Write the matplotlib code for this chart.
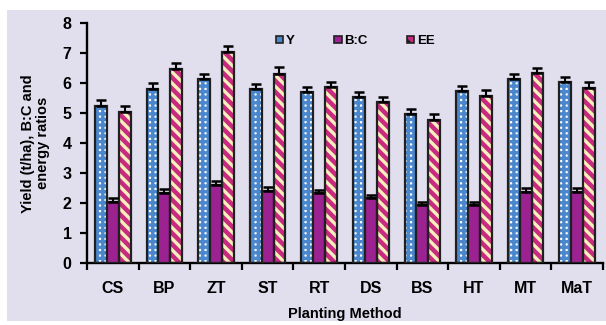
import matplotlib
matplotlib.use('Agg')
import matplotlib.pyplot as plt
import matplotlib.patches as mpatches
import numpy as np

plt.rcParams['font.family'] = ['Liberation Sans', 'DejaVu Sans']
plt.rcParams['font.weight'] = 'bold'
plt.rcParams['hatch.linewidth'] = 2.4

methods = ['CS', 'BP', 'ZT', 'ST', 'RT', 'DS', 'BS', 'HT', 'MT', 'MaT']
y_vals = [5.25, 5.82, 6.13, 5.82, 5.72, 5.55, 4.97, 5.75, 6.15, 6.04]
y_err = [0.19, 0.18, 0.17, 0.15, 0.17, 0.17, 0.17, 0.17, 0.17, 0.17]
bc_vals = [2.05, 2.33, 2.62, 2.42, 2.33, 2.17, 1.94, 1.94, 2.37, 2.37]
bc_err = [0.13, 0.15, 0.13, 0.13, 0.12, 0.12, 0.12, 0.1, 0.15, 0.13]
ee_vals = [5.03, 6.47, 7.05, 6.31, 5.87, 5.37, 4.78, 5.59, 6.34, 5.85]
ee_err = [0.21, 0.21, 0.19, 0.22, 0.18, 0.18, 0.2, 0.18, 0.17, 0.2]

bg = '#E1DEEE'
blue = '#4A87CC'
purple = '#9C2191'
magenta = '#C82A80'
cream = '#F6F0BC'
edge = '#202020'

fig = plt.figure(figsize=(6.06, 3.25), dpi=100)
fig.patch.set_facecolor('white')
fig.patches.append(mpatches.Rectangle((7 / 606, 4 / 325), 1, 311 / 325, transform=fig.transFigure,
                                      facecolor=bg, edgecolor='none', zorder=-10))
ax = fig.add_axes([87 / 606, 61.7 / 325, 516 / 606, 240 / 325])
ax.set_facecolor('none')

x = np.arange(len(methods))
w = 0.23

# Y: white with blue grid pattern
ax.bar(x - w, y_vals, w, color='white', hatch='+++', edgecolor=blue, linewidth=0, zorder=2)
ax.bar(x - w, y_vals, w, color='none', edgecolor=edge, linewidth=1.6, zorder=3)
# B:C: solid purple
ax.bar(x, bc_vals, w, color=purple, edgecolor=edge, linewidth=1.6, zorder=3)
# EE: magenta / cream stripes
ax.bar(x + w, ee_vals, w, color=magenta, hatch='\\\\\\', edgecolor=cream, linewidth=0, zorder=2)
ax.bar(x + w, ee_vals, w, color='none', edgecolor=edge, linewidth=1.6, zorder=3)

for off, v, e in [(-w, y_vals, y_err), (0, bc_vals, bc_err), (w, ee_vals, ee_err)]:
    ax.errorbar(x + off, v, yerr=[np.zeros(len(v)), e], fmt='none', ecolor='black',
                elinewidth=1.5, capsize=3.5, capthick=1.8, zorder=4)

ax.set_xlim(-0.5, len(methods) - 0.5)
ax.set_ylim(0, 8)
ax.set_yticks(range(0, 9))
ax.set_xticks(x)
ax.set_xticklabels(methods)
ax.set_xticks(np.arange(-0.5, len(methods)), minor=True)
ax.tick_params(axis='x', which='major', length=0, pad=13, labelsize=11.5)
ax.tick_params(axis='x', which='minor', length=5, width=1.6, direction='out')
ax.tick_params(axis='y', length=5, width=1.6, direction='out', labelsize=11.5, pad=6)
for s in ['top', 'right']:
    ax.spines[s].set_visible(False)
for s in ['left', 'bottom']:
    ax.spines[s].set_linewidth(1.7)

ax.set_xlabel('Planting Method', fontsize=10.5, fontweight='bold', labelpad=8)
ax.set_ylabel('Yield (t/ha), B:C and\nenergy ratios', fontsize=10.5, fontweight='bold',
              labelpad=9, linespacing=1.15)

handles = [
    mpatches.Patch(facecolor=blue, edgecolor=edge, linewidth=1.2),
    mpatches.Patch(facecolor=purple, edgecolor=edge, linewidth=1.2),
    mpatches.Patch(facecolor=magenta, hatch='\\\\', edgecolor=edge, linewidth=1.2),
]
leg = ax.legend(handles, ['Y', 'B:C', 'EE'], ncol=3, loc='upper center',
                bbox_to_anchor=(0.52, 1.0), frameon=False, handlelength=0.55,
                handleheight=0.55, handletextpad=0.2, columnspacing=3.0,
                prop={'weight': 'bold', 'size': 9.5})

fig.savefig('out.png', dpi=100, facecolor=fig.get_facecolor())
